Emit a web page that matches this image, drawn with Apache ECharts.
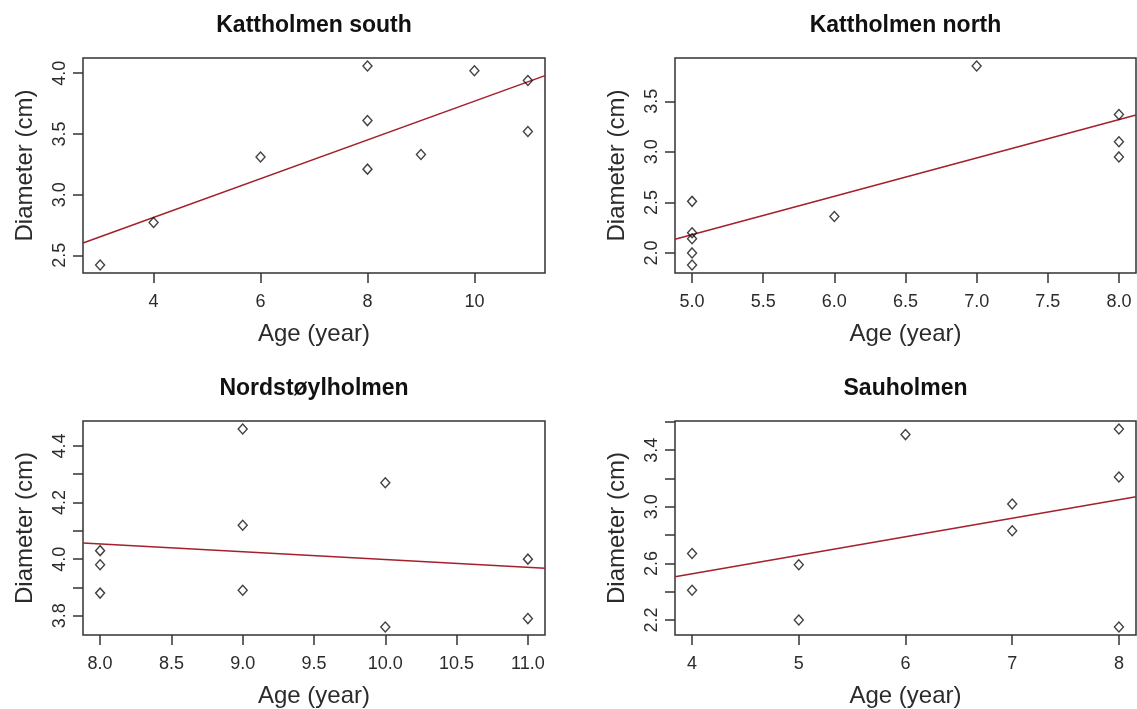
<!DOCTYPE html>
<html>
<head>
<meta charset="utf-8">
<script src="https://cdn.jsdelivr.net/npm/echarts@6/dist/echarts.min.js"></script>
<style>
  html, body { margin: 0; padding: 0; background: #fff; }
  #chart { width: 1137px; height: 709px; }
</style>
</head>
<body>
<div id="chart"></div>
<script>
// panel titles
const titles = ['Kattholmen south', 'Kattholmen north', 'Nordstøylholmen', 'Sauholmen'];

// Kattholmen south
const ksAge = [3, 4, 6, 8, 8, 8, 9, 10, 11, 11];
const ksDiam = [2.42, 2.77, 3.31, 4.06, 3.61, 3.21, 3.33, 4.02, 3.94, 3.52];
const ksXTicks = [4, 6, 8, 10];
const ksYTicks = [2.5, 3.0, 3.5, 4.0];

// Kattholmen north
const knAge = [5, 5, 5, 5, 5, 6, 7, 8, 8, 8];
const knDiam = [2.51, 2.20, 2.14, 2.00, 1.88, 2.36, 3.85, 3.37, 3.10, 2.95];
const knXTicks = [5.0, 5.5, 6.0, 6.5, 7.0, 7.5, 8.0];
const knYTicks = [2.0, 2.5, 3.0, 3.5];

// Nordstøylholmen
const nsAge = [8, 8, 8, 9, 9, 9, 10, 10, 11, 11];
const nsDiam = [4.03, 3.98, 3.88, 4.46, 4.12, 3.89, 4.27, 3.76, 4.00, 3.79];
const nsXTicks = [8.0, 8.5, 9.0, 9.5, 10.0, 10.5, 11.0];
const nsYTicks = [3.8, 3.9, 4.0, 4.1, 4.2, 4.3, 4.4];
const nsYLabels = [3.8, 4.0, 4.2, 4.4];

// Sauholmen
const saAge = [4, 4, 5, 5, 6, 7, 7, 8, 8, 8];
const saDiam = [2.67, 2.41, 2.59, 2.20, 3.51, 3.02, 2.83, 3.55, 3.21, 2.15];
const saXTicks = [4, 5, 6, 7, 8];
const saYTicks = [2.2, 2.4, 2.6, 2.8, 3.0, 3.2, 3.4, 3.6];
const saYLabels = [2.2, 2.6, 3.0, 3.4];

const panels = [
  { ages: ksAge, diams: ksDiam, xt: ksXTicks, xl: ksXTicks, yt: ksYTicks, yl: ksYTicks, xd: 0, yd: 1 },
  { ages: knAge, diams: knDiam, xt: knXTicks, xl: knXTicks, yt: knYTicks, yl: knYTicks, xd: 1, yd: 1 },
  { ages: nsAge, diams: nsDiam, xt: nsXTicks, xl: nsXTicks, yt: nsYTicks, yl: nsYLabels, xd: 1, yd: 1 },
  { ages: saAge, diams: saDiam, xt: saXTicks, xl: saXTicks, yt: saYTicks, yl: saYLabels, xd: 0, yd: 1 }
];

// plot boxes: left, top, width, height
const boxes = [[83, 58, 462, 215], [675, 58, 461, 215], [83, 421, 462, 215], [675, 421, 461, 215]];
const titleTops = [14, 14, 377, 377];

const FONT = 'Liberation Sans, Arial, sans-serif';
const INK = '#2b2b2b';

// R style 4% axis expansion
function expand(vals) {
  const lo = Math.min(...vals), hi = Math.max(...vals);
  const pad = (hi - lo) * 0.04;
  return [lo - pad, hi + pad];
}

// least squares line, like abline(lm(y ~ x))
function fit(x, y) {
  const n = x.length;
  const mx = x.reduce((a, b) => a + b, 0) / n;
  const my = y.reduce((a, b) => a + b, 0) / n;
  let sxy = 0, sxx = 0;
  for (let i = 0; i < n; i++) {
    sxy += (x[i] - mx) * (y[i] - my);
    sxx += (x[i] - mx) * (x[i] - mx);
  }
  const b = sxy / sxx;
  return [my - b * mx, b];
}

const option = {
  backgroundColor: '#fff',
  animation: false,
  title: [], grid: [], xAxis: [], yAxis: [], series: []
};

panels.forEach((p, i) => {
  const [l, t, w, h] = boxes[i];
  const xr = expand(p.ages);
  const yr = expand(p.diams);
  const [a, b] = fit(p.ages, p.diams);

  option.title.push({
    text: titles[i],
    left: l + w / 2,
    top: titleTops[i],
    textAlign: 'center',
    padding: 0,
    textStyle: { fontFamily: FONT, fontSize: 23, fontWeight: 'bold', color: '#111' }
  });
  option.grid.push({
    left: l, top: t, width: w, height: h,
    show: true, borderColor: '#333', borderWidth: 1.5, backgroundColor: '#fff'
  });
  option.xAxis.push({
    type: 'value', gridIndex: i, min: xr[0], max: xr[1],
    splitLine: { show: false },
    axisLine: { show: false },
    axisTick: { show: true, length: 10, customValues: p.xt, lineStyle: { color: '#333', width: 1.5 } },
    axisLabel: {
      customValues: p.xl, margin: 20, fontSize: 18, fontFamily: FONT, color: INK,
      formatter: v => Number(v).toFixed(p.xd)
    },
    name: 'Age (year)', nameLocation: 'middle', nameGap: 49,
    nameTextStyle: { fontFamily: FONT, fontSize: 24, color: INK }
  });
  option.yAxis.push({
    type: 'value', gridIndex: i, min: yr[0], max: yr[1],
    splitLine: { show: false },
    axisLine: { show: false },
    axisTick: { show: true, length: 10, customValues: p.yt, lineStyle: { color: '#333', width: 1.5 } },
    axisLabel: {
      customValues: p.yl, rotate: 90, margin: 14, fontSize: 18, fontFamily: FONT, color: INK,
      formatter: v => Number(v).toFixed(p.yd)
    },
    name: 'Diameter (cm)', nameLocation: 'middle', nameGap: 46,
    nameTextStyle: { fontFamily: FONT, fontSize: 24, color: INK }
  });
  option.series.push({
    type: 'line', xAxisIndex: i, yAxisIndex: i,
    data: [[xr[0], a + b * xr[0]], [xr[1], a + b * xr[1]]],
    symbol: 'none', clip: true, silent: true, z: 2,
    lineStyle: { color: '#a3202c', width: 1.5 }
  });
  option.series.push({
    type: 'scatter', xAxisIndex: i, yAxisIndex: i,
    data: p.ages.map((x, k) => [x, p.diams[k]]),
    symbol: 'diamond', symbolSize: [9, 10], z: 3,
    itemStyle: { color: 'transparent', borderColor: '#111', borderWidth: 1.4 }
  });
});

const myChart = echarts.init(document.getElementById('chart'));
myChart.setOption(option);
</script>
</body>
</html>
